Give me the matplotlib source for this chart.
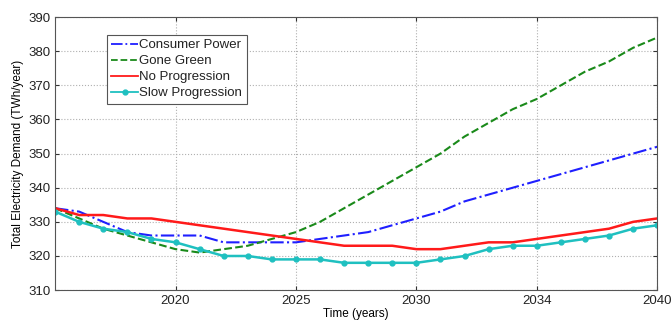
import matplotlib
matplotlib.use('Agg')
import matplotlib.pyplot as plt
import numpy as np

plt.rcParams['font.family'] = ['Liberation Sans', 'DejaVu Sans']

years = list(range(2015, 2041))
consumer_power = [334, 333, 330, 327, 326, 326, 326, 324, 324, 324, 324, 325, 326, 327,
                  329, 331, 333, 336, 338, 340, 342, 344, 346, 348, 350, 352]
gone_green = [334, 331, 328, 326, 324, 322, 321, 322, 323, 325, 327, 330, 334, 338,
              342, 346, 350, 355, 359, 363, 366, 370, 374, 377, 381, 384]
no_progression = [334, 332, 332, 331, 331, 330, 329, 328, 327, 326, 325, 324, 323, 323,
                  323, 322, 322, 323, 324, 324, 325, 326, 327, 328, 330, 331]
slow_progression = [333, 330, 328, 327, 325, 324, 322, 320, 320, 319, 319, 319, 318, 318,
                    318, 318, 319, 320, 322, 323, 323, 324, 325, 326, 328, 329]

xticks = [2020, 2025, 2030, 2035, 2040]
xticklabels = ['2020', '2025', '2030', '2034', '2040']

fig = plt.figure(figsize=(6.72, 3.22), dpi=100)
ax1 = fig.add_axes([0.082, 0.099, 0.896, 0.848])

ax1.plot(years, consumer_power, color='#1f1fff', linestyle='-.', linewidth=1.5, label='Consumer Power')
ax1.plot(years, gone_green, color='#1a8a1a', linestyle='--', linewidth=1.5, label='Gone Green')
ax1.plot(years, no_progression, color='#ff1a1a', linestyle='-', linewidth=1.8, label='No Progression')
ax1.plot(years, slow_progression, color='#1fc0c0', linestyle='-', linewidth=1.8,
         marker='o', markersize=3.5, label='Slow Progression')

ax1.set_xlim(2015, 2040)
ax1.set_ylim(310, 390)
ax1.set_xticks(xticks)
ax1.set_xticklabels(xticklabels)
ax1.set_yticks(np.arange(310, 391, 10))
ax1.grid(True, linestyle=':', color='#b0b0b0', linewidth=0.8)
ax1.tick_params(axis='both', direction='in', top=True, right=True, labelsize=9.5, length=3,
                colors='#333333', labelcolor='#222222')
for s in ax1.spines.values():
    s.set_color('#555555')

ax1.set_xlabel('Time (years)', fontsize=8.5, labelpad=1)
ax1.set_ylabel('Total Electricity Demand (TWh/year)', fontsize=8.5, labelpad=3)

leg = ax1.legend(loc='upper left', bbox_to_anchor=(0.075, 0.96), fontsize=9.5, handlelength=2.0,
                 handletextpad=0.1, borderpad=0.35, labelspacing=0.28, fancybox=False,
                 framealpha=1, edgecolor='#555555')
leg.get_frame().set_linewidth(0.8)
for h in leg.get_lines():
    h.set_linewidth(1.3)
for t in leg.get_texts():
    t.set_color('#222222')

plt.savefig('out.png', dpi=100)
